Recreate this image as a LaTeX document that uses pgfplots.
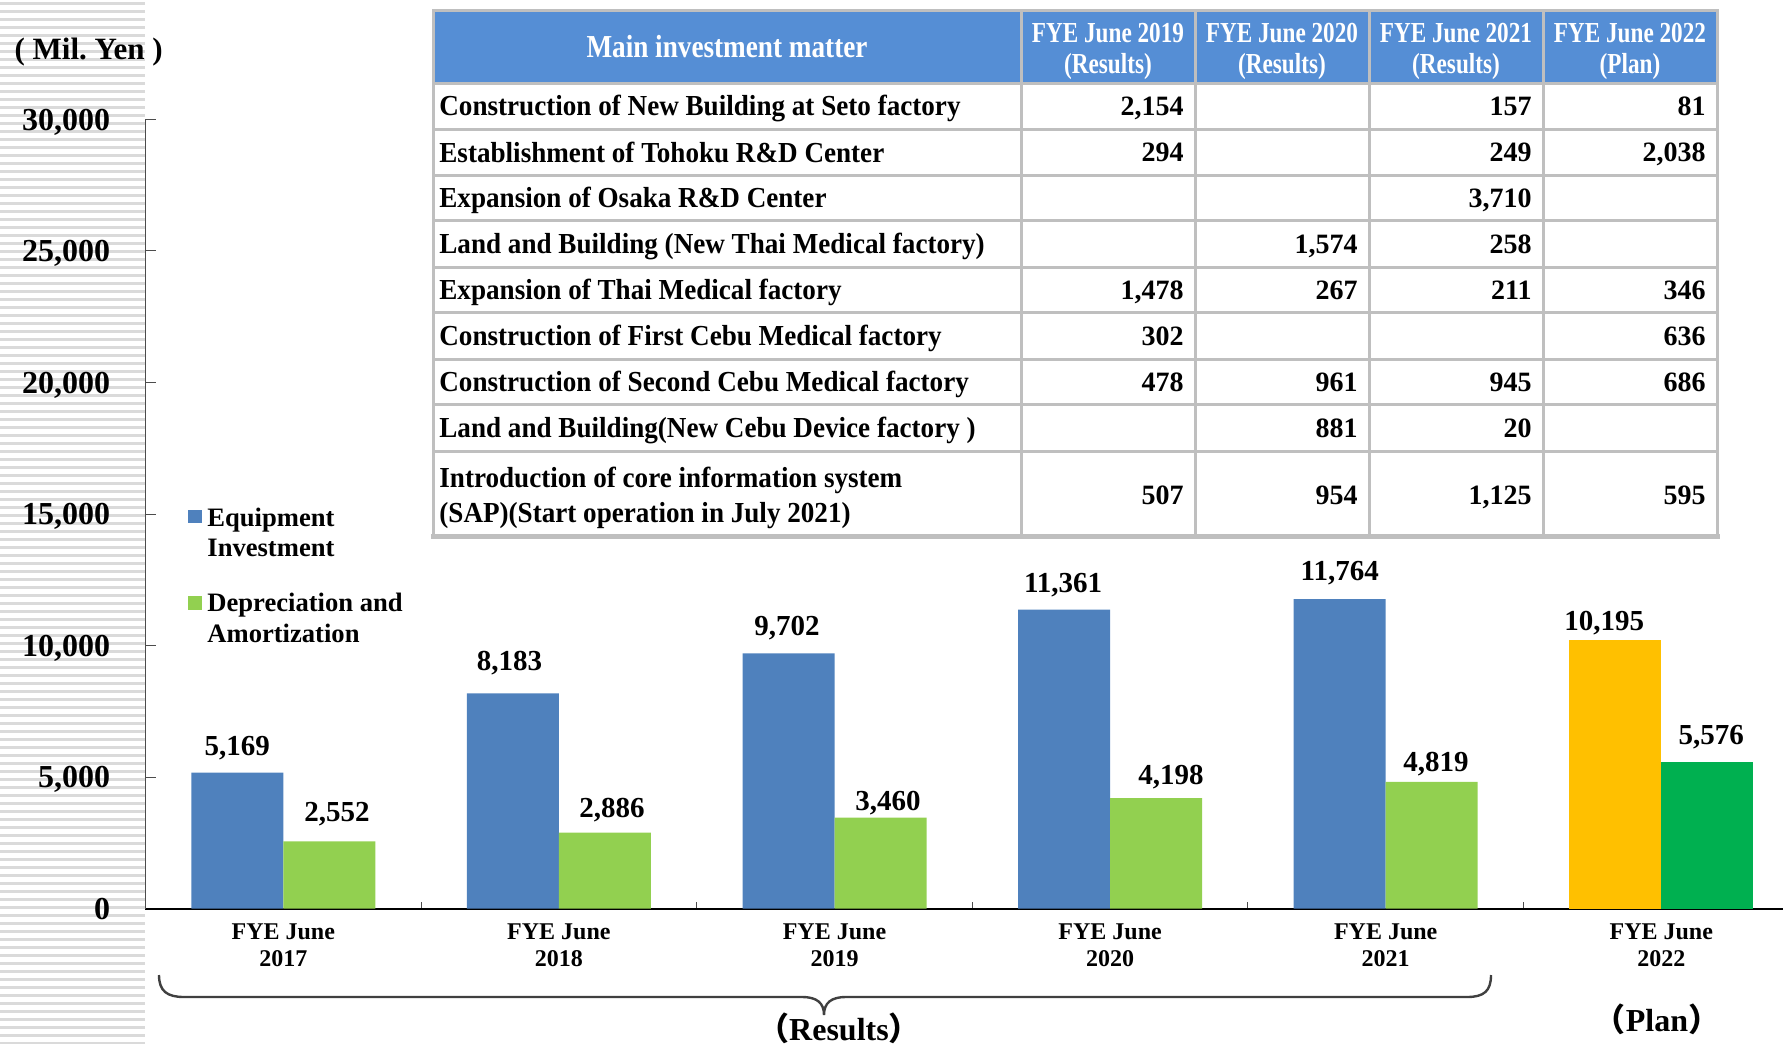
\documentclass[border=0pt]{standalone}
\usepackage{pgfplots}
\usepackage{pgfplotstable}
\pgfplotsset{compat=1.18}
\usepackage{fontspec}
\setmainfont{Liberation Serif}
\newfontface\fval{Liberation Serif Bold}
\newfontface\fhead[FakeStretch=0.8]{Liberation Serif Bold}
\newfontface\fhdmain[FakeStretch=0.85]{Liberation Serif Bold}
\newfontface\fbody[FakeStretch=0.935]{Liberation Serif Bold}
\newfontface\fnum{Liberation Serif Bold}
\newfontfamily\cjk{Noto Sans CJK JP}
\frenchspacing

\definecolor{eqblue}{HTML}{4F81BD}
\definecolor{dagreen}{HTML}{92D050}
\definecolor{planorange}{HTML}{FFC000}
\definecolor{plangreen}{HTML}{00B050}
\definecolor{hdrblue}{HTML}{558ED5}
\definecolor{gridgray}{HTML}{BFBFBF}
\definecolor{stripe}{HTML}{DADADA}
\definecolor{bracegray}{HTML}{404040}

% x = category index, y = value, dx/dy = label offsets (pt)
\pgfplotstableread[row sep=\\]{
x y dx dy\\
0 5169 0 8.4\\
1 8183 -1.7 11.4\\
2 9702 -0.8 9.1\\
3 11361 -0.5 8.6\\
4 11764 0 9.1\\
}\equip
\pgfplotstableread[row sep=\\]{
x y dx dy\\
0 2552 3.8 9.9\\
1 2886 3.5 7.4\\
2 3460 3.7 3.7\\
3 4198 7.5 6.6\\
4 4819 2.2 5.1\\
}\depr
\pgfplotstableread[row sep=\\]{
x y dx dy\\
5 10195 -5.5 5.1\\
}\planequip
\pgfplotstableread[row sep=\\]{
x y dx dy\\
5 5576 2 8.9\\
}\plandepr

\newcommand\val[3]{\node[anchor=base east, inner sep=0pt, font=\fontsize{14}{16}\selectfont\fnum] at (#1,-#2) {#3};}
\newcommand\rowtxt[2]{\node[anchor=base west, inner sep=0pt, font=\fontsize{14.5}{17}\selectfont\fbody] at (439,-#1) {#2};}
\newcommand\hdr[3]{%
  \node[anchor=base, inner sep=0pt, white, font=\fontsize{14.5}{17}\selectfont\fhead] at (#1,-42.6) {#2};
  \node[anchor=base, inner sep=0pt, white, font=\fontsize{14.5}{17}\selectfont\fhead] at (#1,-73.3) {#3};}

\begin{document}
\begin{tikzpicture}[x=0.5pt,y=0.5pt]
% striped background on the left
\foreach \k in {0,...,130} {
  \fill[stripe] (0,{-2-8*\k}) rectangle (145,{-5-8*\k});
}

% ---------- table ----------
\fill[hdrblue] (433,-10) rectangle (1717,-83);
\begin{scope}[gridgray, line width=1.5pt, line cap=rect]
\foreach \yy in {10,83,129.6,175.1,220.6,267.2,312.7,359.3,404.8,451.4}
  \draw (433,-\yy) -- (1717,-\yy);
\draw[line width=2.5pt] (433,-536.7) -- (1717,-536.7);
\foreach \xx in {433,1021,1195,1369,1543,1717}
  \draw (\xx,-10) -- (\xx,-536.7);
\end{scope}

\node[anchor=base, inner sep=0pt, white, font=\fontsize{16}{19}\selectfont\fhdmain] at (727,-57.2) {Main investment matter};
\hdr{1108}{FYE June 2019}{(Results)}
\hdr{1282}{FYE June 2020}{(Results)}
\hdr{1456}{FYE June 2021}{(Results)}
\hdr{1630}{FYE June 2022}{(Plan)}

\rowtxt{115.9}{Construction of New Building at Seto factory}
\rowtxt{162.0}{Establishment of Tohoku R\&D Center}
\rowtxt{207.5}{Expansion of Osaka R\&D Center}
\rowtxt{253.5}{Land and Building (New Thai Medical factory)}
\rowtxt{299.6}{Expansion of Thai Medical factory}
\rowtxt{345.6}{Construction of First Cebu Medical factory}
\rowtxt{391.6}{Construction of Second Cebu Medical factory}
\rowtxt{437.7}{Land and Building(New Cebu Device factory )}
\rowtxt{487.2}{Introduction of core information system}
\rowtxt{522.4}{(SAP)(Start operation in July 2021)}

\val{1184}{115.7}{2,154}\val{1532}{115.7}{157}\val{1706}{115.7}{81}
\val{1184}{161.8}{294}\val{1532}{161.8}{249}\val{1706}{161.8}{2,038}
\val{1532}{207.3}{3,710}
\val{1358}{253.3}{1,574}\val{1532}{253.3}{258}
\val{1184}{299.4}{1,478}\val{1358}{299.4}{267}\val{1532}{299.4}{211}\val{1706}{299.4}{346}
\val{1184}{345.4}{302}\val{1706}{345.4}{636}
\val{1184}{391.4}{478}\val{1358}{391.4}{961}\val{1532}{391.4}{945}\val{1706}{391.4}{686}
\val{1358}{437.5}{881}\val{1532}{437.5}{20}
\val{1184}{504.4}{507}\val{1358}{504.4}{954}\val{1532}{504.4}{1,125}\val{1706}{504.4}{595}

% ---------- chart ----------
\begin{axis}[
  at={(72.75pt,-454.3pt)}, anchor=south west,
  scale only axis, width=826.8pt, height=394.6pt,
  xmin=-0.5, xmax=5.5, ymin=0, ymax=30000,
  axis x line*=bottom, axis y line*=left,
  x axis line style={black, line width=1pt},
  y axis line style={black!70, line width=0.5pt},
  ybar, bar width=46pt,
  ytick={0,5000,10000,15000,20000,25000,30000},
  scaled y ticks=false,
  xtick={0,1,2,3,4,5},
  xticklabels={{FYE June\\2017},{FYE June\\2018},{FYE June\\2019},{FYE June\\2020},{FYE June\\2021},{FYE June\\2022}},
  minor xtick={0.5,1.5,2.5,3.5,4.5},
  tick align=inside,
  major tick length=5pt, minor tick length=3.5pt,
  every major x tick/.append style={draw=none},
  every minor x tick/.append style={black!70, line width=0.5pt},
  every major y tick/.append style={black!70, line width=0.5pt},
  yticklabel style={font=\fontsize{16}{19}\selectfont\bfseries, anchor=base east, inner sep=0pt, xshift=-17.5pt, yshift=-5.4pt},
  xticklabel style={font=\fontsize{12}{13.5}\selectfont\bfseries, align=center, anchor=north, inner sep=0pt, yshift=-7.2pt},
  /pgf/number format/.cd, 1000 sep={,}, assume math mode=true, /pgfplots/.cd,
  clip=false,
  nodes near coords,
  visualization depends on={\thisrow{dx} \as \dx},
  visualization depends on={\thisrow{dy} \as \dy},
  every node near coord/.append style={font=\fontsize{14.5}{17}\selectfont\fval, anchor=base, inner sep=0pt, xshift=\dx pt, yshift=\dy pt},
]
\addplot[fill=eqblue, draw=none, bar shift=-23pt] table[x=x,y=y]{\equip};
\addplot[fill=dagreen, draw=none, bar shift=23pt] table[x=x,y=y]{\depr};
\addplot[fill=planorange, draw=none, bar shift=-23pt] table[x=x,y=y]{\planequip};
\addplot[fill=plangreen, draw=none, bar shift=23pt] table[x=x,y=y]{\plandepr};
\end{axis}

% ---------- legend ----------
\fill[eqblue] (188,-510) rectangle (202,-523);
\fill[dagreen] (188,-596) rectangle (202,-610);
\begin{scope}[every node/.style={anchor=base west, inner sep=0pt, font=\fontsize{13.3}{16}\selectfont\bfseries}]
\node at (207,-526) {Equipment};
\node at (207,-556) {Investment};
\node at (207,-611.7) {Depreciation and};
\node at (207,-642.5) {Amortization};
\end{scope}

% unit label
\node[anchor=base, inner sep=0pt, font=\fontsize{15.5}{18}\selectfont\bfseries] at (88.7,-59.3) {( Mil. Yen )};

% brace
\draw[bracegray, line width=1.2pt] (159,-975) .. controls (159,-991) and (167,-997) .. (184,-997)
  -- (802,-997) .. controls (817,-997) and (824,-1003) .. (824,-1015)
  .. controls (824,-1003) and (831,-997) .. (846,-997)
  -- (1467,-997) .. controls (1484,-997) and (1491,-991) .. (1491,-975);

\node[anchor=base, inner sep=0pt, font=\fontsize{16}{19}\selectfont\bfseries] at (839,-1040) {{\cjk （}Results{\cjk ）}};
\node[anchor=base, inner sep=0pt, font=\fontsize{16}{19}\selectfont\bfseries] at (1657,-1031.7) {{\cjk （}Plan{\cjk ）}};

\pgfresetboundingbox
\path[use as bounding box] (0,0) rectangle (1783,-1044);
\end{tikzpicture}
\end{document}
